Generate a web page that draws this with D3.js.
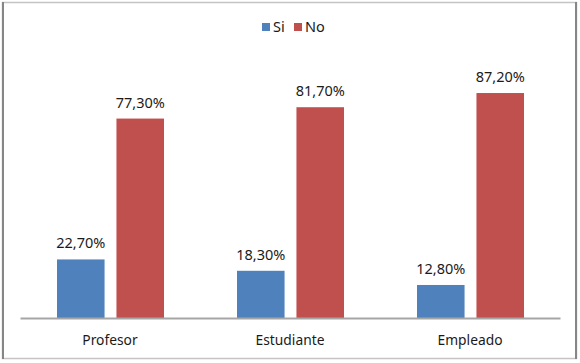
<html><head><meta charset="utf-8"><title>Si / No</title>
<style>
body { margin: 0; background: #fff; }
text { font-family: "Noto Sans", Arial, sans-serif; fill: #1a1a1a; }
</style>
<script src="https://d3js.org/d3.v7.min.js"></script>
</head>
<body>
<div id="chart"></div>
<script>
const categories = ["Profesor", "Estudiante", "Empleado"];
const series = ["Si", "No"];
const siValues = [22.7, 18.3, 12.8];
const noValues = [77.3, 81.7, 87.2];
const colors = ["#4F81BD", "#C0504D"];

const width = 580, height = 363;

const svg = d3.select("#chart").append("svg")
    .attr("width", width)
    .attr("height", height);

// outer frame
svg.append("rect").attr("x", 2.5).attr("y", 2.5).attr("width", 574).attr("height", 356)
    .attr("fill", "#fff").attr("stroke", "#c4c4c4").attr("stroke-width", 1.5);
svg.append("line").attr("x1", 3).attr("x2", 3).attr("y1", 2).attr("y2", 359)
    .attr("stroke", "#868686").attr("stroke-width", 2);
svg.append("line").attr("x1", 576).attr("x2", 576).attr("y1", 2).attr("y2", 359)
    .attr("stroke", "#868686").attr("stroke-width", 2);

const x0 = d3.scaleBand().domain(categories).range([20, 560]);
const x1 = d3.scaleBand().domain(series).range([37, 144]).paddingInner(0.2);
const y = d3.scaleLinear().domain([0, 100]).range([318, 60]);

const rows = categories.map((c, i) => ({ cat: c, vals: [siValues[i], noValues[i]] }));

const groups = svg.selectAll(".grp").data(rows).enter().append("g")
    .attr("transform", d => `translate(${x0(d.cat)},0)`);

groups.selectAll("rect").data(d => d.vals.map((v, j) => ({ s: series[j], v: v, j: j })))
    .enter().append("rect")
    .attr("x", d => x1(d.s))
    .attr("y", d => y(d.v))
    .attr("width", x1.bandwidth())
    .attr("height", d => y(0) - y(d.v))
    .attr("fill", d => colors[d.j]);

groups.selectAll(".lbl").data(d => d.vals.map((v, j) => ({ s: series[j], v: v })))
    .enter().append("text")
    .attr("x", d => x1(d.s) + x1.bandwidth() / 2)
    .attr("y", d => y(d.v) - 11)
    .attr("text-anchor", "middle")
    .style("font-size", "14.5px")
    .text(d => d.v.toFixed(2).replace(".", ",") + "%");

// x axis
const xAxis = svg.append("g").attr("transform", "translate(0,318)")
    .call(d3.axisBottom(x0).tickSize(0).tickPadding(17));
xAxis.select(".domain").attr("stroke", "#a6a6a6").attr("stroke-width", 2);
xAxis.selectAll("text").style("font-size", "13.8px").style("font-family", "\"Noto Sans\", Arial, sans-serif").attr("fill", "#1a1a1a");

// legend
const legend = svg.append("g");
const legX = [262, 294];
series.forEach((s, i) => {
    legend.append("rect").attr("x", legX[i]).attr("y", 23).attr("width", 8).attr("height", 8)
        .attr("fill", colors[i]);
    legend.append("text").attr("x", legX[i] + 11).attr("y", 32)
        .style("font-size", "14.5px").text(s);
});
</script>
</body></html>
